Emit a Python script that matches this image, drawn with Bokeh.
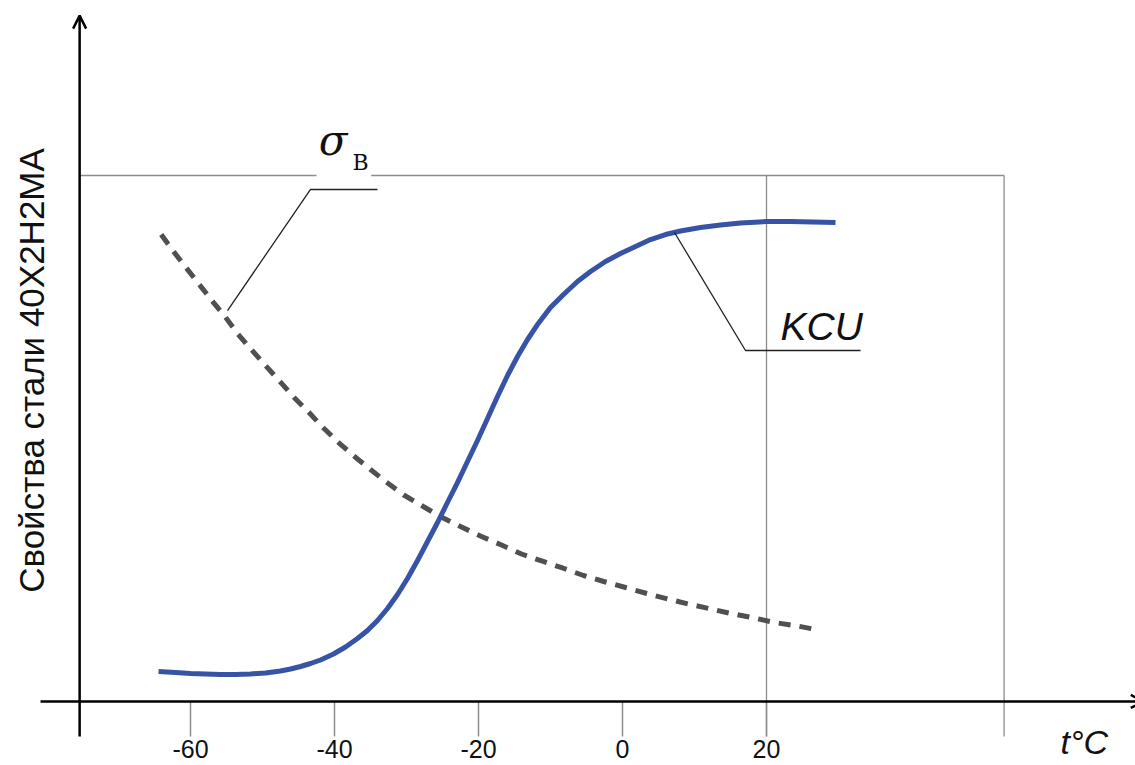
import math
from bokeh.plotting import figure
from bokeh.models import Range1d, Label, LabelSet, Arrow, OpenHead, ColumnDataSource
from bokeh.core.properties import value
from bokeh.embed import file_html
from bokeh.resources import INLINE

# ---- data ----
kcu_t = [-64.44, -62.08, -60.00, -57.92, -55.83, -53.75, -51.67, -49.58, -47.50, -46.11,
         -44.72, -43.33, -41.94, -40.14, -38.47, -36.81, -35.42, -34.03, -32.64, -31.25,
         -29.86, -28.47, -27.08, -25.69, -24.31, -22.92, -21.53, -20.14, -18.75, -17.36,
         -15.97, -14.58, -13.19, -11.81, -10.00, -8.19, -6.25, -4.44, -2.36, -0.28,
         1.81, 3.89, 5.97, 8.06, 10.83, 13.61, 16.39, 20.00, 23.33, 26.39, 29.58]
kcu_v = [5.70, 5.51, 5.32, 5.23, 5.13, 5.13, 5.23, 5.42, 5.80, 6.18,
         6.65, 7.22, 7.89, 9.03, 10.36, 11.98, 13.50, 15.40, 17.68, 20.34,
         23.38, 26.81, 30.42, 34.03, 37.83, 41.63, 45.63, 49.62, 53.80, 57.98,
         61.98, 65.59, 68.82, 71.67, 74.90, 77.38, 79.85, 81.75, 83.65, 85.17,
         86.50, 87.83, 88.78, 89.45, 90.11, 90.59, 90.97, 91.25, 91.25, 91.16, 91.06]

sigma_t = [-64.07, -62.46, -60.60, -58.85, -57.13, -55.14, -53.51, -51.53, -49.58, -47.50,
           -45.65, -43.57, -41.57, -39.40, -37.22, -35.00, -32.78, -30.38, -27.68, -25.04,
           -22.36, -19.58, -16.81, -14.03, -11.11, -8.33, -5.42, -2.60, 0.42, 3.40,
           6.36, 9.21, 12.22, 15.24, 18.15, 21.11, 24.13, 26.81]
sigma_v = [88.78, 85.74, 82.45, 79.41, 76.37, 73.06, 70.02, 66.86, 63.88, 60.70,
           57.85, 55.00, 52.03, 49.18, 46.58, 44.11, 41.69, 39.26, 37.07, 34.98,
           33.17, 31.37, 29.75, 28.04, 26.67, 25.38, 23.95, 22.81, 21.67, 20.53,
           19.47, 18.52, 17.62, 16.67, 15.91, 15.02, 14.39, 13.69]

tick_values = [-60, -40, -20, 0, 20]
tick_labels = ["-60", "-40", "-20", "0", "20"]

y_label = "Свойства стали 40Х2Н2МА"
x_label = "t°C"
kcu_label = "KCU"
sigma_label = "σ"
sigma_sub = "В"

# ---- layout constants (data units) ----
X_MIN, X_MAX = -86.39, 71.25
Y_MIN, Y_MAX = -12.17, 133.27
X_AXIS_START = -80.83
X_ARROW_TIP = 72.4
Y_AXIS_T = -75.4
TICK_BOTTOM = -6.65
Y_AXIS_TOP = 130.4
BOX_TOP = 100.0
BOX_RIGHT = 53.0
REF_T = 20.0
GAP_L, GAP_R = -42.5, -34.9
TICK_LABEL_Y = -8.94
X_LABEL_Y = -7.79

sigma_leader_t = [-54.86, -43.33, -34.03]
sigma_leader_v = [74.33, 97.34, 97.34]
kcu_leader_t = [7.22, 17.08, 33.06]
kcu_leader_v = [89.16, 66.73, 66.73]

p = figure(width=1135, height=765, min_border=0,
           x_range=Range1d(X_MIN, X_MAX), y_range=Range1d(Y_MIN, Y_MAX),
           x_axis_location=None, y_axis_location=None,
           toolbar_location=None, output_backend="svg")
p.outline_line_color = None
p.grid.visible = False
p.background_fill_color = "white"
p.border_fill_color = "white"

gray = "#8c8c8c"
# box / reference lines
p.line([Y_AXIS_T, GAP_L], [BOX_TOP, BOX_TOP], line_color=gray, line_width=1.3)
p.line([GAP_R, BOX_RIGHT], [BOX_TOP, BOX_TOP], line_color=gray, line_width=1.3)
p.segment(x0=[BOX_RIGHT, REF_T], y0=[BOX_TOP, BOX_TOP], x1=[BOX_RIGHT, REF_T],
          y1=[TICK_BOTTOM, TICK_BOTTOM], line_color=gray, line_width=1.3)

# x ticks
p.segment(x0=tick_values, y0=[0] * len(tick_values), x1=tick_values,
          y1=[TICK_BOTTOM] * len(tick_values), line_color=gray, line_width=1.5)
tick_src = ColumnDataSource(dict(t=tick_values, y=[TICK_LABEL_Y] * len(tick_values),
                                 label=tick_labels))
p.add_layout(LabelSet(x="t", y="y", text="label", source=tick_src,
                      text_align="center", text_baseline="middle",
                      text_font=value("Liberation Sans"), text_font_size=value("25px"),
                      text_color="#111111"))

# curves
p.line(x="t", y="v", source=ColumnDataSource(dict(t=sigma_t, v=sigma_v)),
       line_color="#505050", line_width=5, line_dash="12 9")
p.line(x="t", y="v", source=ColumnDataSource(dict(t=kcu_t, v=kcu_v)),
       line_color="#3753a6", line_width=5, line_join="round")

# leader lines
p.line(sigma_leader_t, sigma_leader_v, line_color="#222222", line_width=1.3)
p.line(kcu_leader_t, kcu_leader_v, line_color="#222222", line_width=1.3)

# axes with arrows
p.add_layout(Arrow(end=OpenHead(size=13, line_width=2.5, line_color="black"),
                   x_start=Y_AXIS_T, y_start=TICK_BOTTOM, x_end=Y_AXIS_T, y_end=Y_AXIS_TOP,
                   line_color="black", line_width=2.5))
p.add_layout(Arrow(end=OpenHead(size=13, line_width=2.5, line_color="black"),
                   x_start=X_AXIS_START, y_start=0, x_end=X_ARROW_TIP, y_end=0,
                   line_color="black", line_width=2.5))

# labels
p.add_layout(Label(x=-82.08, y=62.93, text=y_label, angle=math.pi / 2,
                   text_align="center", text_baseline="middle",
                   text_font="Liberation Sans", text_font_size="35px", text_color="#111111"))
p.add_layout(Label(x=21.94, y=71.3, text=kcu_label, text_font="Liberation Sans",
                   text_font_style="italic", text_font_size="39px", text_color="#111111",
                   text_baseline="middle"))
p.add_layout(Label(x=-42.2, y=106.7, text=sigma_label, text_font="DejaVu Serif",
                   text_font_style="italic", text_font_size="42px", text_color="#111111",
                   text_baseline="middle"))
p.add_layout(Label(x=-37.5, y=102.5, text=sigma_sub, text_font="DejaVu Serif",
                   text_font_size="22px", text_color="#111111", text_baseline="middle"))
p.add_layout(Label(x=60.83, y=X_LABEL_Y, text=x_label, text_font="Liberation Sans",
                   text_font_style="italic", text_font_size="34px", text_color="#111111",
                   text_baseline="middle"))

open("out.html", "w").write(file_html(p, INLINE))
